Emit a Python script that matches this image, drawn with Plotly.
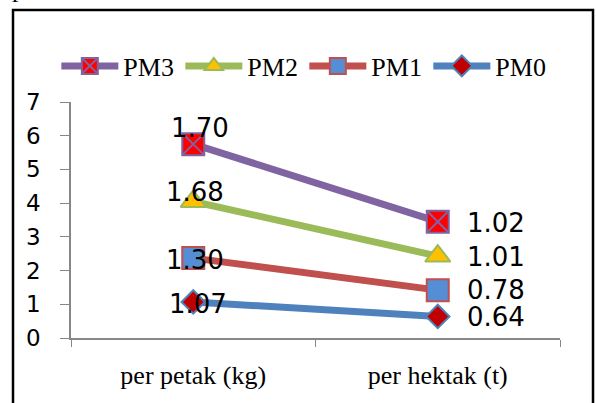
import plotly.graph_objects as go

# Yield per plot and per hectare, stacked by treatment
categories = ["per petak (kg)", "per hektak (t)"]
series_names = ["PM0", "PM1", "PM2", "PM3"]
pm0 = [1.07, 0.64]
pm1 = [1.30, 0.78]
pm2 = [1.68, 1.01]
pm3 = [1.70, 1.02]
y_ticks = [0, 1, 2, 3, 4, 5, 6, 7]

values = [pm0, pm1, pm2, pm3]

SERIF = "Liberation Serif, Times New Roman, serif"
SANS = "DejaVu Sans, Verdana, sans-serif"

styles = {
    "PM0": dict(line="#4F81BD", fill="#C00000", symbol="diamond", size=18),
    "PM1": dict(line="#C0504D", fill="#558ED5", symbol="square", size=22),
    "PM2": dict(line="#9BBB59", fill="#FFC000", symbol="triangle-up", size=22),
    "PM3": dict(line="#8064A2", fill="#FF0000", symbol="square-x", size=22),
}
# label offsets (px) for the first and second category
left_shift = {"PM0": (5, -2), "PM1": (2, -2), "PM2": (2, 9), "PM3": (7, 16)}
right_shift = {"PM0": -1, "PM1": 0, "PM2": -1, "PM3": -1}

fig = go.Figure()
annotations = []
running = [0.0, 0.0]
for name, vals in zip(series_names, values):
    running = [r + v for r, v in zip(running, vals)]
    st = styles[name]
    fig.add_trace(go.Scatter(
        x=categories, y=list(running), name=name, mode="lines+markers",
        line=dict(color=st["line"], width=7),
        marker=dict(symbol=st["symbol"], size=st["size"], color=st["fill"],
                    line=dict(color=st["line"], width=2)),
    ))
    dx, dy = left_shift[name]
    annotations.append(dict(
        x=categories[0], y=running[0], text=f"{vals[0]:.2f}", showarrow=False,
        xanchor="center", yanchor="middle", xshift=dx, yshift=dy,
        font=dict(family=SANS, size=26, color="#000000"),
    ))
    annotations.append(dict(
        x=categories[1], y=running[1], text=f"{vals[1]:.2f}", showarrow=False,
        xanchor="left", yanchor="middle", xshift=27, yshift=right_shift[name],
        font=dict(family=SANS, size=26, color="#000000"),
    ))

annotations.append(dict(
    xref="paper", yref="paper", x=-0.125, y=1.412, text="pada Gambar 7.",
    showarrow=False, xanchor="left", yanchor="bottom",
    font=dict(family=SERIF, size=26, color="#000000"),
))

fig.update_layout(
    width=596, height=403,
    margin=dict(l=71, r=36, t=102, b=65, autoexpand=False),
    paper_bgcolor="white", plot_bgcolor="white",
    showlegend=True,
    legend=dict(
        orientation="h", traceorder="reversed",
        x=-0.03, xanchor="left", y=1.1525, yanchor="middle",
        font=dict(family=SERIF, size=26, color="#000000"),
        itemwidth=57, entrywidth=52, entrywidthmode="pixels",
        bgcolor="rgba(0,0,0,0)",
    ),
    annotations=annotations,
    shapes=[dict(
        type="rect", xref="paper", yref="paper",
        x0=-0.1186, x1=1.0675, y0=-0.35, y1=1.3898,
        line=dict(color="#000000", width=2.5), fillcolor="rgba(0,0,0,0)",
    )],
)
fig.update_xaxes(
    type="category", range=[-0.5, 1.5], showgrid=False,
    showline=True, linecolor="#878787", linewidth=1.5,
    ticks="outside", tickson="boundaries", ticklen=7, tickcolor="#878787",
    tickfont=dict(family=SERIF, size=26, color="#000000"),
    ticklabelstandoff=13,
)
fig.update_yaxes(
    range=[0, 7], tickvals=y_ticks, showgrid=False, zeroline=False,
    showline=True, linecolor="#878787", linewidth=1.5,
    ticks="outside", ticklen=9, tickcolor="#878787",
    tickfont=dict(family=SANS, size=23, color="#000000"),
    ticklabelstandoff=15,
)

fig.write_html("out.html")
